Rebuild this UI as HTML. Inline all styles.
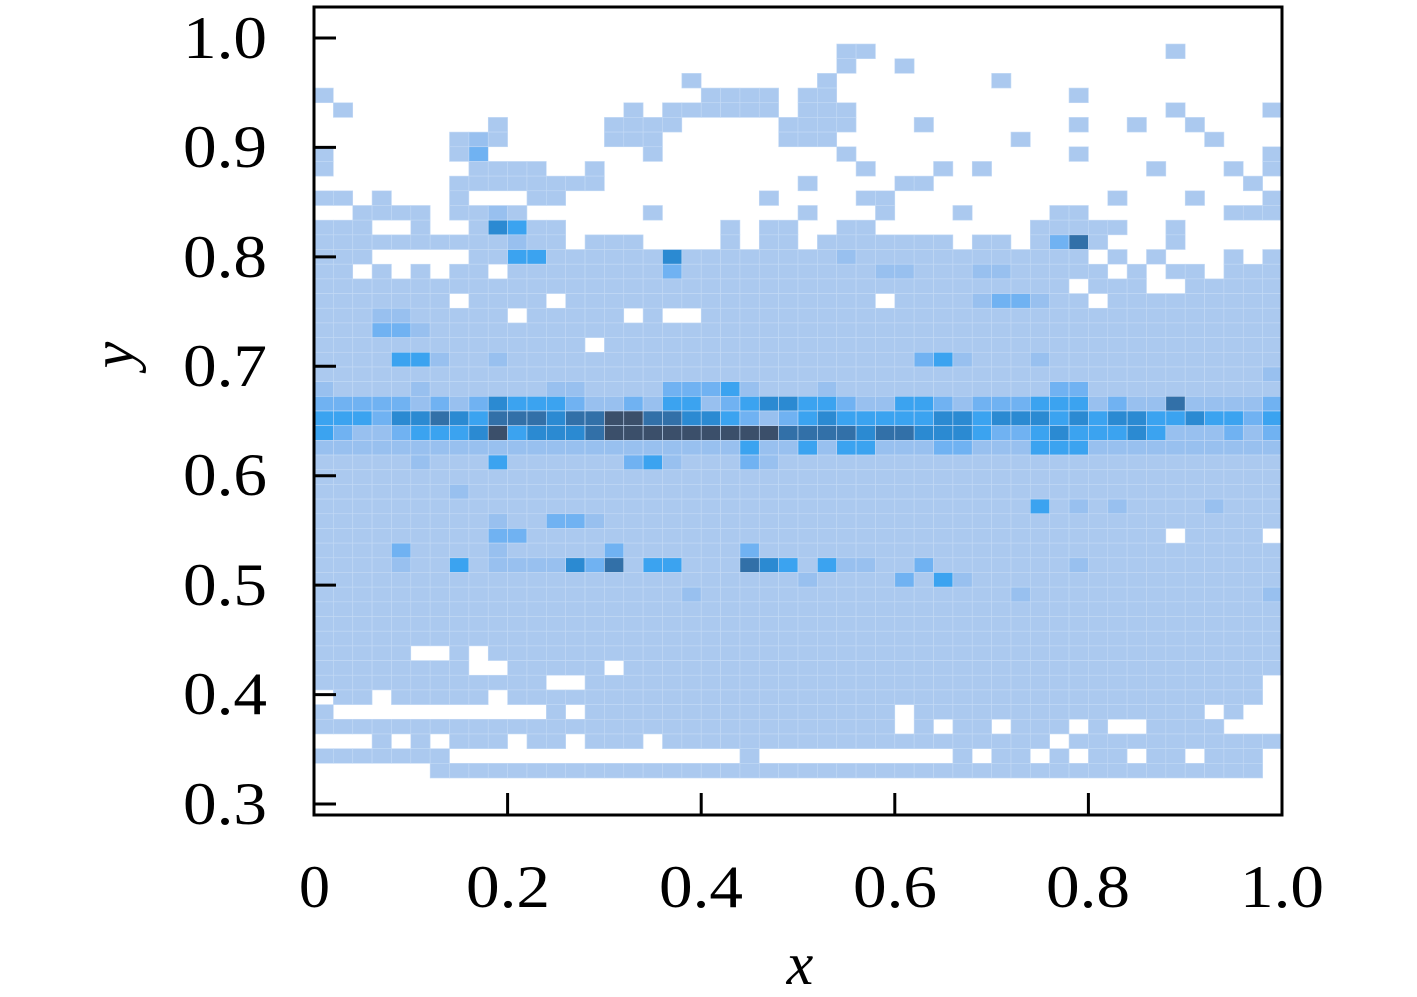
<!DOCTYPE html>
<html><head><meta charset="utf-8"><style>
body{margin:0;background:#fff;}
svg text{font-family:"Liberation Serif",serif;fill:#000;}
</style></head><body>
<svg id="s" width="1417" height="992" xmlns="http://www.w3.org/2000/svg">
<g id="cells"></g>
<rect x="314" y="7" width="968" height="808" fill="none" stroke="#000" stroke-width="3"/>
<g stroke="#000" stroke-width="3">
<line x1="314" y1="38" x2="336" y2="38"/><line x1="314" y1="147.4" x2="336" y2="147.4"/>
<line x1="314" y1="256.9" x2="336" y2="256.9"/><line x1="314" y1="366.3" x2="336" y2="366.3"/>
<line x1="314" y1="475.7" x2="336" y2="475.7"/><line x1="314" y1="585.1" x2="336" y2="585.1"/>
<line x1="314" y1="694.6" x2="336" y2="694.6"/><line x1="314" y1="804" x2="336" y2="804"/>
<line x1="507.6" y1="815" x2="507.6" y2="793"/><line x1="701.2" y1="815" x2="701.2" y2="793"/>
<line x1="894.8" y1="815" x2="894.8" y2="793"/><line x1="1088.4" y1="815" x2="1088.4" y2="793"/>
</g>
<g font-size="60">
<text x="183" y="58" textLength="84" lengthAdjust="spacingAndGlyphs">1.0</text>
<text x="183" y="167" textLength="84" lengthAdjust="spacingAndGlyphs">0.9</text>
<text x="183" y="277" textLength="84" lengthAdjust="spacingAndGlyphs">0.8</text>
<text x="183" y="386" textLength="84" lengthAdjust="spacingAndGlyphs">0.7</text>
<text x="183" y="495" textLength="84" lengthAdjust="spacingAndGlyphs">0.6</text>
<text x="183" y="605" textLength="84" lengthAdjust="spacingAndGlyphs">0.5</text>
<text x="183" y="714" textLength="84" lengthAdjust="spacingAndGlyphs">0.4</text>
<text x="183" y="824" textLength="84" lengthAdjust="spacingAndGlyphs">0.3</text>
</g>
<g font-size="60">
<text x="299" y="907" textLength="31" lengthAdjust="spacingAndGlyphs">0</text>
<text x="466" y="907" textLength="84" lengthAdjust="spacingAndGlyphs">0.2</text>
<text x="659" y="907" textLength="84" lengthAdjust="spacingAndGlyphs">0.4</text>
<text x="853" y="907" textLength="84" lengthAdjust="spacingAndGlyphs">0.6</text>
<text x="1046" y="907" textLength="84" lengthAdjust="spacingAndGlyphs">0.8</text>
<text x="1240" y="907" textLength="84" lengthAdjust="spacingAndGlyphs">1.0</text>
</g>
<text x="800" y="984" font-size="60" font-style="italic" text-anchor="middle">x</text>
<text transform="translate(133,355) rotate(-90)" font-size="60" font-style="italic" text-anchor="middle">y</text>
</svg>
<script>
function mk(s){return s.replace(/\|/g,"");}
var R=[
"..........|..........|.......aa.|..........|....a.....",
"..........|..........|.......a..|a.........|..........",
"..........|.........a|......a...|.....a....|..........",
"a.........|..........|aaaa.aa...|.........a|..........",
".a........|......a.aa|aaaa.aaa..|..........|....a....a",
".........a|.....aaaa.|....aaaa..|.a.......a|..a..a....",
".......aba|.....aaa..|....aaa...|......a...|......a...",
"a......ac.|.......a..|.......a..|.........a|.........a",
"a.......aa|aa..a.....|........a.|..a.a.....|...a...a.a",
".......aaa|aaaaa.....|.....a....|aa........|........a.",
"aa.a...a..|.aa.......|...a....aa|..........|.a...a...a",
"..aaaa.aab|a......a..|.....a...a|...a....aa|.......aaa",
"aaa..a..ae|daa.......|.a.aa..aa.|.......aaa|aa..a.....",
"aaaaaaaaaa|baa.aaa...|.a.aa.aaaa|aaa.aa.acf|a...a.....",
"aaa.....aa|ddaaaaaaea|aaaaaaabaa|aaaaaaaaaa|.a.a...a.a",
"aa.a.a.aa.|aaaaaaaaca|aaaaaaaaab|baaabbaaaa|a.a.aa.aaa",
"aaaaaaaaaa|aaaaaaaaaa|aaaaaaaaaa|aaaaaaaaa.|aaa..aaaaa",
"aaaaaaa.aa|aa.aaaaaaa|aaaaaaaaa.|aaaabccbaa|.aaaaaaaaa",
"aaabbaaaaa|.aaaaa.a..|aaaaaaaaaa|aaaaaaaaaa|aaaaaaaaaa",
"aaaccbaaaa|aaaaaaaaaa|aaaaaaaaaa|aaaaaaaaaa|aaaaaaaaaa",
"aaaaaaaaaa|aaaa.aaaaa|aaaaaaaaaa|aaaaaaaaaa|aaaaaaaaaa",
"aaaaddbaab|aaaaaaaaaa|aaaaaaaaaa|acdbaaabaa|aaaaaaaaaa",
"aaaaaaaaaa|aaaaaaaaaa|aaaaaaaaaa|aaaaaaaaaa|aaaaaaaaab",
"baaaabaaaa|aabbaaaacc|cdbaaabaaa|aaaaaaaacc|aaaaaaaaaa",
"cccccbcbce|dddcbbcbdd|bcdeeddcbb|ddcbcccddd|bcbbfbbbbc",
"dddceefedf|ffeffggffe|edcbcdeddd|ddeedeeede|deeddeddcd",
"dcbbcddde g|deeefggggg|ggggffffef|feeedccded|ddedbbbcbc",
"bbbbbbbbbb|bbbbbbbbbb|bbdbbdbddb|bbccbbbddd|bbbbbbbbbb",
"aaaaabaaad|aaaaaacdba|aacbaaaaaa|aaaaaaaaaa|aaaaaaaaaa",
"aaaaaaaaaa|aaaaaaaaaa|aaaaaaaaaa|aaaaaaaaaa|aaaaaaaaaa",
"aaaaaaabaa|aaaaaaaaaa|aaaaaaaaaa|aaaaaaaaaa|aaaaaaaaaa",
"aaaaaaaaaa|aaaaaaaaaa|aaaaaaaaaa|aaaaaaadab|abaaaabaaa",
"aaaaaaaaab|aaccbaaaaa|aaaaaaaaaa|aaaaaaaaaa|aaaaaaaaaa",
"aaaaaaaaac|caaaaaaaaa|aaaaaaaaaa|aaaaaaaaaa|aaaa.aaaa.",
"aaaacaaaab|aaaaacaaaa|aacaaaaaaa|aaaaaaaaaa|aaaaaaaaaa",
"aaaabaadab|bbbecfadda|aafedadbba|acaaaaaaab|aaaaaaaaaa",
"aaaaaaaaaa|aaaaaaaaaa|aaaaabaaaa|cadbaaaaaa|aaaaaaaaaa",
"aaaaaaaaaa|aaaaaaaaab|aaaaaaaaaa|aaaaaabaaa|aaaaaaaaab",
"aaaaaaaaaa|aaaaaaaaaa|aaaaaaaaaa|aaaaaaaaaa|aaaaaaaaaa",
"aaaaaaaaaa|aaaaaaaaaa|aaaaaaaaaa|aaaaaaaaaa|aaaaaaaaaa",
"aaaaaaaaaa|aaaaaaaaaa|aaaaaaaaaa|aaaaaaaaaa|aaaaaaaaaa",
"aaaaa..a.a|aaaaaaaaaa|aaaaaaaaaa|aaaaaaaaaa|aaaaaaaaaa",
"aaaaaaaa..|aaaaa.aaaa|aaaaaaaaaa|aaaaaaaaaa|aaaaaaaaaa",
"aaaaaaaaaa|aa..aaaaaa|aaaaaaaaaa|aaaaaaaaaa|aaaaaaaaa.",
".aa.aaaaa.|aaaaaaaaaa|aaaaaaaaaa|aaaaaaaaaa|aaaaaaaaa.",
"a.........|..a.aaaaaa|aaaaaaaaaa|.aaaaaaaaa|aaaaaa.a..",
"aaaaaaaaaa|aaaaaaaaaa|aaaaaaaaaa|.a.aa.aaa.|a..aaaa...",
"...a.a.aaa|.aa.aaa.aa|aaaaaaaaaa|aaaaaaaa.a|aaaaaaaaaa",
"aaaaaaa...|..........|..a.......|...a.aa.a.|aa.aa.aaa.",
"......aaaa|aaaaaaaaaa|aaaaaaaaaa|aaaaaaaaaa|aaaaaaaaa."
];
var C={a:"#abc9ef",b:"#98c0ef",c:"#70b2f2",d:"#3ba3f0",e:"#2b8ad2",f:"#3270a8",g:"#3b4f6a"};
var g=document.getElementById("cells"),h="";
var w=968/50,hh=14.68;
for(var r=0;r<50;r++){var s=mk(R[r]).replace(/ /g,"");for(var c=0;c<50;c++){var k=s[c];if(!k||!C[k])continue;
h+='<rect x="'+(314+c*w).toFixed(2)+'" y="'+(44+r*hh).toFixed(2)+'" width="'+w.toFixed(2)+'" height="'+hh.toFixed(2)+'" fill="'+C[k]+'" stroke="#c4daf5" stroke-width="0.6"/>';}}
g.innerHTML=h;
</script>
</body></html>
